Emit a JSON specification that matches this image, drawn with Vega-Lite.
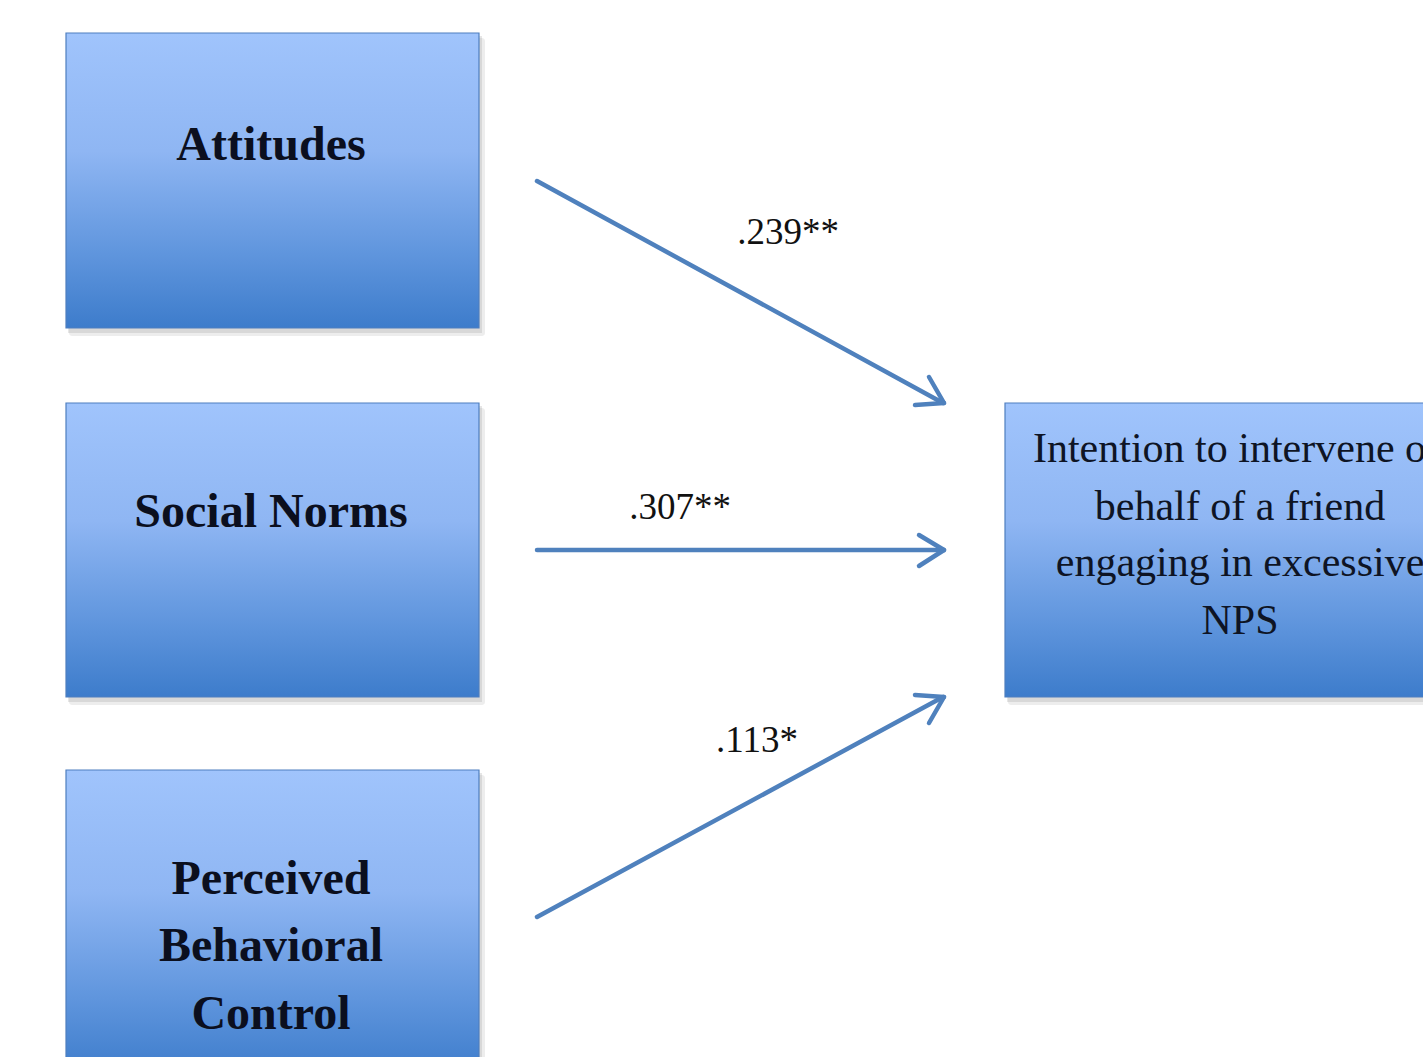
{
  "$schema": "https://vega.github.io/schema/vega-lite/v6.json",
  "autosize": {"type": "fit", "contains": "padding"},
  "width": 1423,
  "height": 1057,
  "padding": 0,
  "background": "white",
  "config": {"view": {"stroke": null}},
  "datasets": {
    "boxes": [
      {"box": "Attitudes", "x0": 66, "x1": 479, "y0": 33, "y1": 328},
      {"box": "Social Norms", "x0": 66, "x1": 479, "y0": 403, "y1": 697},
      {"box": "Perceived Behavioral Control", "x0": 66, "x1": 479, "y0": 770, "y1": 1075},
      {"box": "Intention", "x0": 1005, "x1": 1450, "y0": 403, "y1": 697}
    ],
    "segments": [
      {"part": "shaft1", "xa": 537, "ya": 181, "xb": 943, "yb": 403},
      {"part": "head1a", "xa": 929, "ya": 377, "xb": 944, "yb": 403},
      {"part": "head1b", "xa": 915, "ya": 405, "xb": 944, "yb": 403},
      {"part": "shaft2", "xa": 537, "ya": 550, "xb": 943, "yb": 550},
      {"part": "head2a", "xa": 919, "ya": 535, "xb": 944, "yb": 550},
      {"part": "head2b", "xa": 919, "ya": 566, "xb": 944, "yb": 550},
      {"part": "shaft3", "xa": 537, "ya": 917, "xb": 943, "yb": 697},
      {"part": "head3a", "xa": 915, "ya": 695, "xb": 944, "yb": 697},
      {"part": "head3b", "xa": 929, "ya": 723, "xb": 944, "yb": 697}
    ],
    "boldLabels": [
      {"label": "Attitudes", "x": 271, "y": 160},
      {"label": "Social Norms", "x": 271, "y": 527},
      {"label": "Perceived", "x": 271, "y": 894},
      {"label": "Behavioral", "x": 271, "y": 961},
      {"label": "Control", "x": 271, "y": 1029}
    ],
    "outcomeLabels": [
      {"label": "Intention to intervene on", "x": 1240, "y": 462},
      {"label": "behalf of a friend", "x": 1240, "y": 520},
      {"label": "engaging in excessive", "x": 1240, "y": 576},
      {"label": "NPS", "x": 1240, "y": 634}
    ],
    "coefficients": [
      {"label": ".239**", "x": 788, "y": 244},
      {"label": ".307**", "x": 680, "y": 519},
      {"label": ".113*", "x": 757, "y": 752}
    ]
  },
  "layer": [
    {
      "data": {"name": "boxes"},
      "mark": {"type": "rect", "fill": "#9a9a9a", "opacity": 0.18, "clip": true, "xOffset": 3, "yOffset": 5, "x2Offset": 6, "y2Offset": 8, "cornerRadius": 3},
      "encoding": {
        "x": {"field": "x0", "type": "quantitative", "scale": {"domain": [0, 1423], "nice": false, "zero": false}, "axis": null},
        "x2": {"field": "x1"},
        "y": {"field": "y0", "type": "quantitative", "scale": {"domain": [0, 1057], "nice": false, "zero": false, "reverse": true}, "axis": null},
        "y2": {"field": "y1"}
      }
    },
    {
      "data": {"name": "boxes"},
      "mark": {"type": "rect", "fill": "#9a9a9a", "opacity": 0.25, "clip": true, "xOffset": 2, "yOffset": 3, "x2Offset": 3, "y2Offset": 5},
      "encoding": {
        "x": {"field": "x0", "type": "quantitative"},
        "x2": {"field": "x1"},
        "y": {"field": "y0", "type": "quantitative"},
        "y2": {"field": "y1"}
      }
    },
    {
      "data": {"name": "boxes"},
      "mark": {
        "type": "rect",
        "clip": true,
        "stroke": "#4f7fbf",
        "strokeWidth": 1.2,
        "fill": {
          "gradient": "linear",
          "x1": 0, "y1": 0, "x2": 0, "y2": 1,
          "stops": [
            {"offset": 0, "color": "#a0c4fc"},
            {"offset": 0.4, "color": "#8fb6f3"},
            {"offset": 0.75, "color": "#5f95dd"},
            {"offset": 1, "color": "#3d7ccb"}
          ]
        }
      },
      "encoding": {
        "x": {"field": "x0", "type": "quantitative"},
        "x2": {"field": "x1"},
        "y": {"field": "y0", "type": "quantitative"},
        "y2": {"field": "y1"}
      }
    },
    {
      "data": {"name": "segments"},
      "mark": {"type": "rule", "color": "#4f81bd", "strokeWidth": 4.5, "strokeCap": "round"},
      "encoding": {
        "x": {"field": "xa", "type": "quantitative"},
        "y": {"field": "ya", "type": "quantitative"},
        "x2": {"field": "xb"},
        "y2": {"field": "yb"}
      }
    },
    {
      "data": {"name": "boldLabels"},
      "mark": {"type": "text", "font": "Liberation Serif", "fontWeight": "bold", "fontSize": 48, "color": "#0b0f1e", "align": "center", "baseline": "alphabetic", "clip": true},
      "encoding": {
        "x": {"field": "x", "type": "quantitative"},
        "y": {"field": "y", "type": "quantitative"},
        "text": {"field": "label"}
      }
    },
    {
      "data": {"name": "outcomeLabels"},
      "mark": {"type": "text", "font": "Liberation Serif", "fontSize": 42, "color": "#0e1424", "align": "center", "baseline": "alphabetic", "clip": true},
      "encoding": {
        "x": {"field": "x", "type": "quantitative"},
        "y": {"field": "y", "type": "quantitative"},
        "text": {"field": "label"}
      }
    },
    {
      "data": {"name": "coefficients"},
      "mark": {"type": "text", "font": "Liberation Serif", "fontSize": 37, "color": "#111111", "align": "center", "baseline": "alphabetic"},
      "encoding": {
        "x": {"field": "x", "type": "quantitative"},
        "y": {"field": "y", "type": "quantitative"},
        "text": {"field": "label"}
      }
    }
  ]
}
